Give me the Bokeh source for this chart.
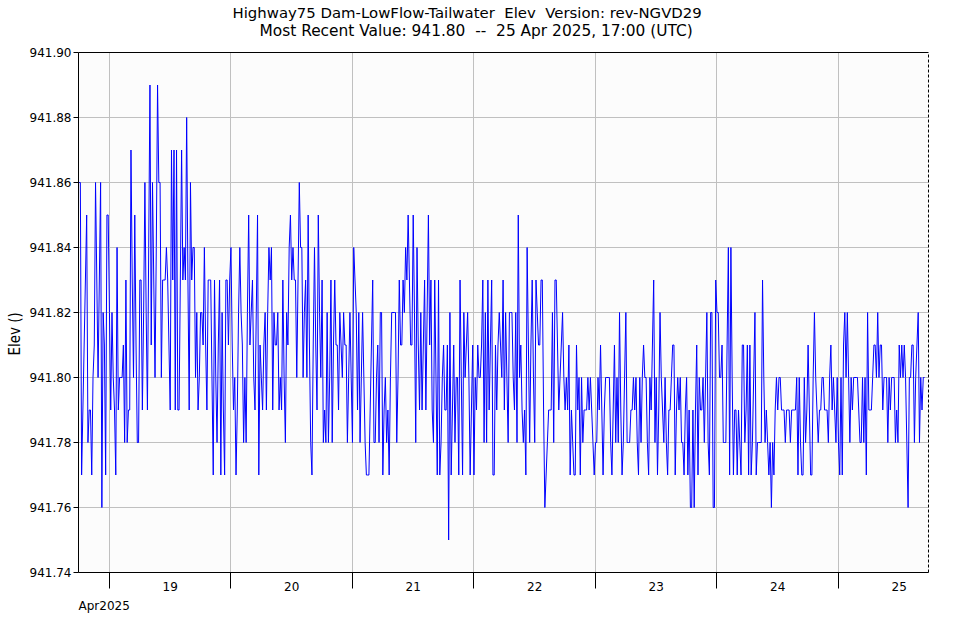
import pandas as pd
from bokeh.plotting import figure
from bokeh.models import Range1d, FixedTicker, LinearAxis, Title, PrintfTickFormatter
from bokeh.embed import file_html
from bokeh.resources import INLINE

# ---- data: 15-minute elevation readings (ft) ----
series_start = "2025-04-18 18:00"
series_step = "15min"

elev_apr18 = [941.86, 941.86, 941.77, 941.79, 941.81, 941.83, 941.85, 941.78, 941.79, 941.79,
              941.77, 941.80, 941.81, 941.86, 941.83, 941.80, 941.83, 941.86, 941.76, 941.82,
              941.81, 941.77, 941.85, 941.85]

elev_apr19 = [941.82, 941.79, 941.82, 941.80, 941.79, 941.77,
              941.84, 941.79, 941.80, 941.80, 941.80, 941.81, 941.78, 941.83, 941.78, 941.79,
              941.79, 941.87, 941.83, 941.80, 941.85, 941.81, 941.78, 941.78, 941.83, 941.83,
              941.79, 941.82, 941.86, 941.82, 941.79, 941.84, 941.89, 941.81, 941.86, 941.83,
              941.80, 941.84, 941.89, 941.86, 941.86, 941.80, 941.83, 941.83, 941.83, 941.84,
              941.83, 941.81, 941.79, 941.87, 941.83, 941.87, 941.79, 941.87, 941.79, 941.79,
              941.83, 941.87, 941.83, 941.84, 941.83, 941.88,
              941.83, 941.79, 941.86, 941.83, 941.84, 941.84, 941.80, 941.82, 941.79, 941.80,
              941.82, 941.82, 941.81, 941.84, 941.81, 941.79, 941.83, 941.83, 941.83, 941.80,
              941.77, 941.83, 941.80, 941.78, 941.81, 941.83, 941.77, 941.82, 941.79, 941.77,
              941.83, 941.83, 941.81, 941.83]

elev_apr20 = [941.84, 941.81, 941.79, 941.80, 941.77, 941.79,
              941.82, 941.84, 941.82, 941.81, 941.78, 941.80, 941.78, 941.82, 941.85, 941.81,
              941.82, 941.83, 941.80, 941.79, 941.82, 941.85, 941.77, 941.81, 941.80, 941.79,
              941.81, 941.82, 941.79, 941.82, 941.84, 941.83, 941.84, 941.79, 941.82, 941.81,
              941.81, 941.82, 941.79, 941.80, 941.79, 941.83, 941.80, 941.78, 941.82, 941.81,
              941.84, 941.85, 941.83, 941.84, 941.83,
              941.83, 941.80, 941.83, 941.86, 941.84, 941.84, 941.80, 941.82, 941.83, 941.80,
              941.85, 941.81, 941.78, 941.77, 941.81, 941.84, 941.81, 941.79, 941.85, 941.82,
              941.80, 941.83, 941.78, 941.79, 941.78, 941.82, 941.78, 941.80, 941.83, 941.78,
              941.81, 941.83, 941.81, 941.81, 941.79, 941.82, 941.81, 941.80, 941.82, 941.81,
              941.81, 941.78, 941.80, 941.82, 941.80]

elev_apr21 = [941.78, 941.84, 941.83, 941.82, 941.79,
              941.82, 941.78, 941.80, 941.82, 941.80, 941.78, 941.77, 941.77, 941.77, 941.79,
              941.81, 941.83, 941.78, 941.78, 941.80, 941.81, 941.78, 941.82, 941.82, 941.77,
              941.79, 941.80, 941.78, 941.79, 941.77, 941.80, 941.82, 941.82, 941.82, 941.82,
              941.78, 941.80, 941.83, 941.81, 941.81, 941.83, 941.82, 941.84, 941.83, 941.85,
              941.83, 941.81, 941.81, 941.85, 941.82, 941.78, 941.84, 941.81, 941.79, 941.82,
              941.79, 941.81, 941.83, 941.79, 941.82, 941.85, 941.81, 941.83, 941.79, 941.78,
              941.83, 941.80, 941.77, 941.83, 941.77, 941.78, 941.80, 941.81, 941.79, 941.79,
              941.81, 941.75, 941.82, 941.77, 941.79, 941.81, 941.78, 941.80, 941.80, 941.77,
              941.83, 941.80, 941.77, 941.82, 941.80, 941.81, 941.82, 941.80, 941.77, 941.79,
              941.81]

elev_apr22 = [941.77, 941.80, 941.79, 941.81, 941.80, 941.80, 941.81, 941.83, 941.78,
              941.82, 941.78, 941.83, 941.79, 941.81, 941.83, 941.77, 941.77, 941.81, 941.79,
              941.81, 941.82, 941.81,
              941.80, 941.83, 941.79, 941.82, 941.80, 941.78, 941.82, 941.82, 941.82, 941.80,
              941.79, 941.82, 941.78, 941.85, 941.80, 941.81, 941.79, 941.78, 941.79, 941.77,
              941.84, 941.81, 941.78, 941.81, 941.83, 941.80, 941.78, 941.83, 941.82, 941.81,
              941.81, 941.83, 941.83, 941.79, 941.76, 941.77, 941.78, 941.79, 941.79, 941.79,
              941.82, 941.78, 941.83, 941.83, 941.81, 941.79, 941.80, 941.81, 941.82, 941.80,
              941.79, 941.80, 941.79, 941.81, 941.77, 941.79, 941.78, 941.77, 941.77, 941.81,
              941.79, 941.80, 941.77, 941.80, 941.78, 941.79, 941.79, 941.79, 941.80, 941.79,
              941.80, 941.79, 941.78, 941.77]

elev_apr23 = [941.78, 941.78, 941.80, 941.79, 941.81, 941.79, 941.77, 941.79, 941.80,
              941.80, 941.80, 941.80, 941.78, 941.77, 941.79, 941.81, 941.78, 941.80, 941.78,
              941.82, 941.79, 941.77, 941.78, 941.80, 941.82, 941.78, 941.78, 941.78, 941.79,
              941.79, 941.80, 941.79, 941.80, 941.78, 941.77, 941.80, 941.78, 941.80, 941.81,
              941.80, 941.80, 941.78, 941.77, 941.80, 941.79, 941.81, 941.83, 941.78, 941.80,
              941.77, 941.79, 941.82, 941.80, 941.79, 941.78, 941.80, 941.78, 941.77, 941.79,
              941.79, 941.80, 941.81, 941.81, 941.77, 941.79, 941.80, 941.79, 941.80, 941.78,
              941.78, 941.77, 941.79, 941.80, 941.77, 941.79, 941.76, 941.76, 941.79, 941.76,
              941.79, 941.81, 941.77, 941.80, 941.79, 941.79, 941.80, 941.78, 941.80, 941.82,
              941.78, 941.77,
              941.82, 941.82, 941.76, 941.76, 941.83]

elev_apr24 = [941.82, 941.82, 941.80, 941.80, 941.81,
              941.78, 941.78, 941.78, 941.81, 941.84, 941.77, 941.84, 941.80, 941.77, 941.79,
              941.79, 941.77, 941.79, 941.78, 941.77, 941.81, 941.81, 941.78, 941.79, 941.81,
              941.77, 941.81, 941.77, 941.78, 941.80, 941.82, 941.77, 941.78, 941.78, 941.78,
              941.78, 941.83, 941.80, 941.78, 941.79, 941.78, 941.77, 941.78, 941.76, 941.78,
              941.77, 941.79, 941.80, 941.79, 941.80, 941.80, 941.79, 941.79, 941.79, 941.78,
              941.79, 941.79, 941.79, 941.78, 941.79, 941.79, 941.79, 941.79, 941.80, 941.77,
              941.80, 941.78, 941.77, 941.77, 941.80, 941.78, 941.79, 941.81, 941.79, 941.77,
              941.77, 941.80, 941.82,
              941.80, 941.79, 941.78, 941.79, 941.79, 941.80, 941.80, 941.79, 941.79, 941.79,
              941.78, 941.80, 941.81, 941.79, 941.80, 941.79, 941.78, 941.80]

elev_apr25 = [941.78, 941.77,
              941.80, 941.77, 941.81, 941.82, 941.80, 941.82, 941.80, 941.78, 941.80, 941.79,
              941.80, 941.80, 941.80, 941.80, 941.79, 941.78, 941.78, 941.80, 941.78, 941.80,
              941.77, 941.82, 941.79, 941.79, 941.79, 941.80, 941.81, 941.81, 941.80, 941.82,
              941.80, 941.81, 941.81, 941.79, 941.80, 941.80, 941.80, 941.78, 941.80, 941.79,
              941.80, 941.80, 941.80, 941.78, 941.79, 941.78, 941.81, 941.80, 941.81, 941.80,
              941.81, 941.80, 941.78, 941.76, 941.80, 941.80, 941.81, 941.81, 941.78, 941.80,
              941.81, 941.82, 941.78, 941.80, 941.79, 941.80, 941.80]

y_ticks = [941.74, 941.76, 941.78, 941.80, 941.82, 941.84, 941.86, 941.88, 941.90]
day_labels = ["19", "20", "21", "22", "23", "24", "25"]
first_day = "2025-04-19"
month_label = "Apr2025"
NB2 = "\u00a0\u00a0"
title_line1 = "Highway75 Dam-LowFlow-Tailwater" + NB2 + "Elev" + NB2 + "Version: rev-NGVD29"
title_line2 = "Most Recent Value: 941.80" + NB2 + "--" + NB2 + "25 Apr 2025, 17:00 (UTC)"
y_label = "Elev ()"

# ---- build ----
values = (elev_apr18 + elev_apr19 + elev_apr20 + elev_apr21 +
          elev_apr22 + elev_apr23 + elev_apr24 + elev_apr25)
times = pd.date_range(series_start, periods=len(values), freq=series_step)

midnights = pd.date_range(first_day, periods=len(day_labels), freq="D")
noons = midnights + pd.Timedelta(hours=12)
to_ms = lambda ts: ts.value / 1e6
midnight_ms = [to_ms(t) for t in midnights]
noon_ms = [to_ms(t) for t in noons]

FONT = "DejaVu Sans"
TFONT = "DejaVu Sans Condensed"

p = figure(x_axis_type="datetime", output_backend="svg", toolbar_location=None,
           frame_width=850, frame_height=520,
           min_border_left=78, min_border_right=25, min_border_top=52, min_border_bottom=40,
           x_range=Range1d(pd.Timestamp("2025-04-18 17:53"), pd.Timestamp("2025-04-25 17:47")),
           y_range=Range1d(941.74, 941.90))
p.background_fill_color = "#fcfcfc"
p.border_fill_color = "white"
p.outline_line_color = None

p.line(times, values, line_color="#0000ff", line_width=1)

# y axis
ya = p.yaxis[0]
ya.ticker = FixedTicker(ticks=y_ticks)
ya.formatter = PrintfTickFormatter(format="%.2f")
ya.axis_line_color = "black"
ya.major_tick_line_color = "black"
ya.major_tick_out = 5
ya.major_tick_in = 0
ya.minor_tick_line_color = None
ya.major_label_standoff = 2
ya.major_label_text_font = FONT
ya.major_label_text_font_size = "12px"
ya.major_label_text_color = "black"

# y label as a side title (rotated), shifted down with trailing no-break spaces
p.add_layout(Title(text=y_label + "\u00a0" * 10, align="center", text_font=TFONT,
                   text_font_size="15px", text_font_style="normal", text_color="black",
                   standoff=6), "left")

# x axis: labels at noon, ticks at midnight (as minor ticks)
xa = p.xaxis[0]
xa.ticker = FixedTicker(ticks=noon_ms, minor_ticks=midnight_ms)
xa.major_label_overrides = {noon_ms[i]: day_labels[i] for i in range(len(day_labels))}
xa.axis_line_color = "black"
xa.major_tick_line_color = None
xa.major_tick_out = 0
xa.major_tick_in = 0
xa.minor_tick_line_color = "black"
xa.minor_tick_out = 16
xa.minor_tick_in = 0
xa.major_label_standoff = -7
xa.major_label_text_font = FONT
xa.major_label_text_font_size = "12px"
xa.major_label_text_color = "black"

# grids
p.xgrid.ticker = FixedTicker(ticks=midnight_ms)
p.xgrid.grid_line_color = "#c0c0c0"
p.ygrid.grid_line_color = "#c0c0c0"

# top (solid) and right (dashed) borders
top = LinearAxis(ticker=FixedTicker(ticks=[]), axis_line_color="black",
                 major_tick_line_color=None, minor_tick_line_color=None)
p.add_layout(top, "above")
right = LinearAxis(ticker=FixedTicker(ticks=[]), axis_line_color="black", axis_line_dash="3 2",
                   major_tick_line_color=None, minor_tick_line_color=None)
p.add_layout(right, "right")

# titles (closest to the frame first)
p.add_layout(Title(text=title_line2, align="left", offset=181, text_font=FONT,
                   text_font_size="15.4px", text_font_style="normal", text_color="black",
                   standoff=26), "above")
p.add_layout(Title(text=title_line1, align="left", offset=154, text_font=FONT,
                   text_font_size="14.9px", text_font_style="normal", text_color="black",
                   standoff=-31), "above")

# month/year label under the day labels
p.add_layout(Title(text=month_label, align="left", text_font=FONT, text_font_size="12px",
                   text_font_style="normal", text_color="black", standoff=7), "below")

open("out.html", "w").write(file_html(p, INLINE))
